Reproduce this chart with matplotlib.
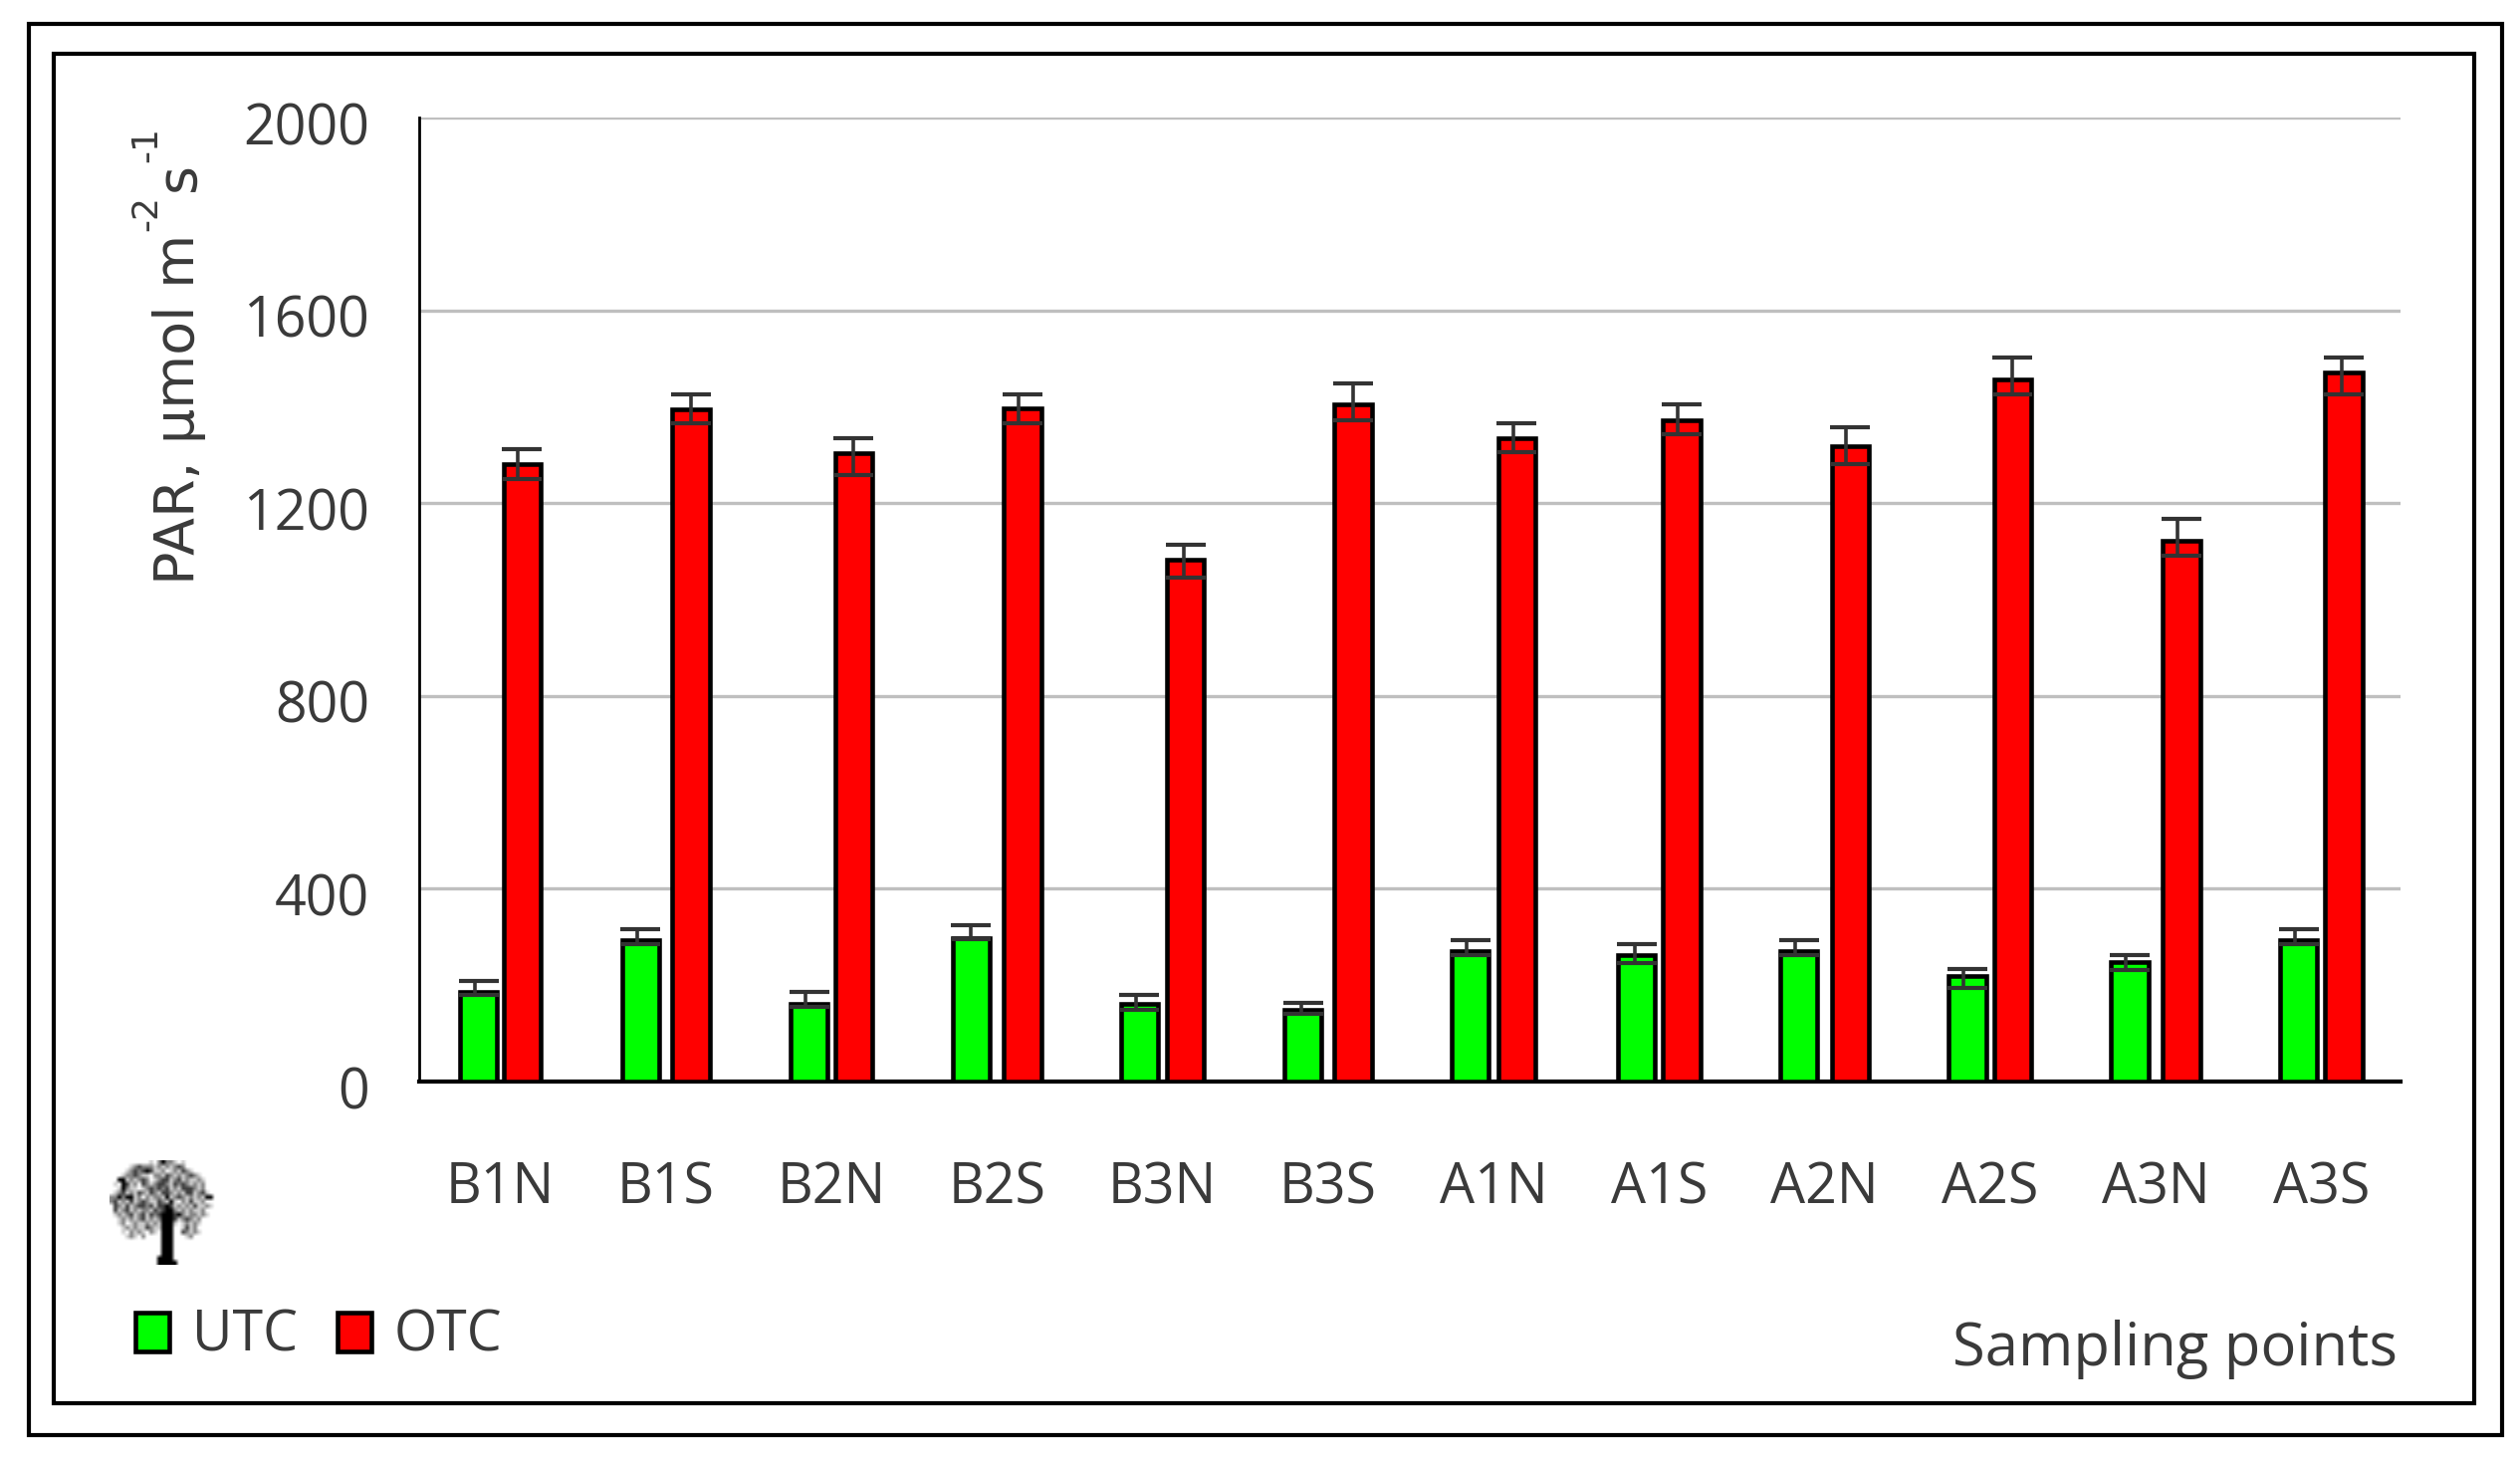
"""PAR at the sampling points, UTC against OTC."""

import matplotlib
matplotlib.use("Agg")
import matplotlib.pyplot as plt
import numpy as np
from matplotlib.patches import Patch, Rectangle
from matplotlib.transforms import ScaledTranslation

W, H = 2531, 1464

points = ["B1N", "B1S", "B2N", "B2S", "B3N", "B3S", "A1N", "A1S", "A2N", "A2S", "A3N", "A3S"]
utc_values = [186, 293, 162, 298, 162, 148, 270, 262, 270, 218, 247, 293]
utc_upper = [209, 316, 186, 324, 180, 164, 293, 286, 293, 233, 262, 316]
utc_lower = [180, 285, 155, 295, 149, 140, 262, 246, 262, 194, 231, 285]
otc_values = [1280, 1394, 1303, 1397, 1083, 1404, 1335, 1372, 1319, 1456, 1121, 1472]
otc_upper = [1312, 1426, 1335, 1426, 1114, 1448, 1366, 1404, 1357, 1502, 1167, 1502]
otc_lower = [1251, 1366, 1258, 1366, 1045, 1372, 1306, 1343, 1281, 1426, 1091, 1426]
y_ticks = [0, 400, 800, 1200, 1600, 2000]

# half distance between the two bars of each group, in group units
half_gaps = [0.131, 0.153, 0.134, 0.156, 0.139, 0.151, 0.141, 0.136, 0.156, 0.136, 0.156, 0.136]
bar_width = 0.225
# the whisker stems are not quite centred on their caps (pixels)
utc_stem_shift = [-3.7, -3.7, -4, 0, -3.7, -2, -4, -1.7, -4, -4, -4, -4]
otc_stem_shift = [-4, 0, 0, -4, -1.6, 0, -3, -4, -4, 0, -4, -1.6]

# tree icon
tree_rows = [
    "..........-.+@++-.-........",
    ".....-+#+++-+-+-+#+........",
    "....-+#+#@#--+.-+-#+-......",
    "...-++#+--.++-#+-+-+#+-....",
    "..@@-+-+#+.-+##-+#-+--+-...",
    ".-.@#-+.#+-+##+-#+#+-+-+...",
    "..-@+--.-+#+#+#-+-###+-+...",
    ".-+#-+-#+-#+-##+-+-##-+#-..",
    "++@+@@-+.+-++-@-+#+-+-+-@@.",
    "+#-+-#-+#+--#+-@-.+-#--+...",
    ".#+-#-+##+#-##@#-+-+-#--+-.",
    ".#-+#-+-++-#+#@@+-+-+--+...",
    ".-+-+#-+#-#+#@@@#@+-++-+-..",
    "..-+-+-+#-+-+@@@#-+#+-+....",
    "..-+.-+--+-+-@@@-.-+-+-....",
    "...-+-+--#+--@@@..-#-+.....",
    "...-.+-+-.+-.@@@..#+-+-....",
    "....-+-.+....@@@...-+......",
    ".............@@@...........",
    ".............@@@...........",
    ".............@@@...........",
    ".............@@@...........",
    "............@@@@...........",
    "............@@@@@..........",
]
tree_shades = {".": 1.0, "-": 0.8, "+": 0.52, "#": 0.25, "@": 0.0}

TEXT = "#3a3a3a"
FONT = "Open Sans"
plt.rcParams["font.family"] = [FONT, "DejaVu Sans"]


def px(x, y):
    return x / W, 1 - y / H


def frame(fig, x0, y0, x1, y1, lw):
    fx, fy = px(x0, y1)
    fig.add_artist(Rectangle((fx, fy), (x1 - x0) / W, (y1 - y0) / H, transform=fig.transFigure,
                             fill=False, edgecolor="black", linewidth=lw))


def bars(ax, xs, values, upper, lower, stem_shift, color, group_px):
    values = np.array(values)
    yerr = [values - np.array(lower), np.array(upper) - values]
    ax.bar(xs, values, bar_width, color=color, edgecolor="black", linewidth=3.3, zorder=3)
    ax.errorbar(xs, values, yerr=yerr, fmt="none", ecolor="#333333", elinewidth=0,
                capsize=14.5, capthick=3.0, zorder=4)
    ax.vlines(xs + np.array(stem_shift) / group_px, lower, upper, color="#333333", linewidth=2.6, zorder=4)


fig = plt.figure(figsize=(W / 100, H / 100), dpi=100, facecolor="white")
frame(fig, 29, 24, 2513, 1441, 3.0)
frame(fig, 54, 54, 2485, 1409, 3.0)

left, bottom = px(421, 1086)
ax = fig.add_axes([left, bottom, (2411 - 421) / W, (1086 - 118) / H])
ax.set_xlim(-0.49, 11.48)
ax.set_ylim(0, 2000)

x = np.arange(len(points))
gaps = np.array(half_gaps)
group_px = (2411 - 421) / 11.97
bars(ax, x - gaps, utc_values, utc_upper, utc_lower, utc_stem_shift, "#00ff00", group_px)
bars(ax, x + gaps, otc_values, otc_upper, otc_lower, otc_stem_shift, "#ff0000", group_px)

ax.set_xticks(x, points)
ax.set_yticks(y_ticks)
ax.tick_params(axis="x", length=0, pad=57, labelsize=40, labelcolor=TEXT)
ax.tick_params(axis="y", length=0, pad=36, labelsize=40, labelcolor=TEXT)
# y tick labels sit a little under their gridlines
nudge = ScaledTranslation(0, -4 / 72, fig.dpi_scale_trans)
for label in ax.get_yticklabels():
    label.set_transform(label.get_transform() + nudge)
ax.grid(axis="y", color="#bfbfbf", linewidth=2.4, zorder=0)
ax.set_axisbelow(True)
for side in ["top", "right"]:
    ax.spines[side].set_visible(False)
ax.spines["left"].set_linewidth(2.0)
ax.spines["bottom"].set_linewidth(3.0)

# y label pieces, the superscripts sit off the main line
ylabel_font = dict(color=TEXT, rotation=90, family="DejaVu Sans", ha="center")
fx, fy = px(180, 587)
fig.text(fx, fy, "PAR, µmol m", fontsize=40, va="bottom", **ylabel_font)
fx, fy = px(147, 214)
fig.text(fx, fy, "-2", fontsize=26, va="center", **ylabel_font)
fx, fy = px(180, 178)
fig.text(fx, fy, "s", fontsize=40, va="center", **ylabel_font)
fx, fy = px(147, 145)
fig.text(fx, fy, "-1", fontsize=26, va="center", **ylabel_font)

fx, fy = px(2408, 1355)
fig.text(fx, fy, "Sampling points", fontsize=43, color=TEXT, ha="right", va="center")

handles = [Patch(facecolor="#00ff00", edgecolor="black", linewidth=3.3, label="UTC"),
           Patch(facecolor="#ff0000", edgecolor="black", linewidth=3.3, label="OTC")]
fig.legend(handles=handles, loc="center left", bbox_to_anchor=px(136, 1342), ncol=2, frameon=False,
           fontsize=40, labelcolor=TEXT, handlelength=0.62, handleheight=0.7, handletextpad=0.4,
           columnspacing=0.72, borderpad=0, borderaxespad=0)

# small tree icon
tree = np.array([[tree_shades[c] for c in row.ljust(27, ".")] for row in tree_rows])
icon = fig.add_axes([110 / W, 1 - 1270 / H, 108 / W, 105 / H])
icon.imshow(tree, cmap="gray", vmin=0, vmax=1, aspect="auto", interpolation="bilinear")
icon.axis("off")

fig.savefig("out.png", dpi=100, facecolor="white")
